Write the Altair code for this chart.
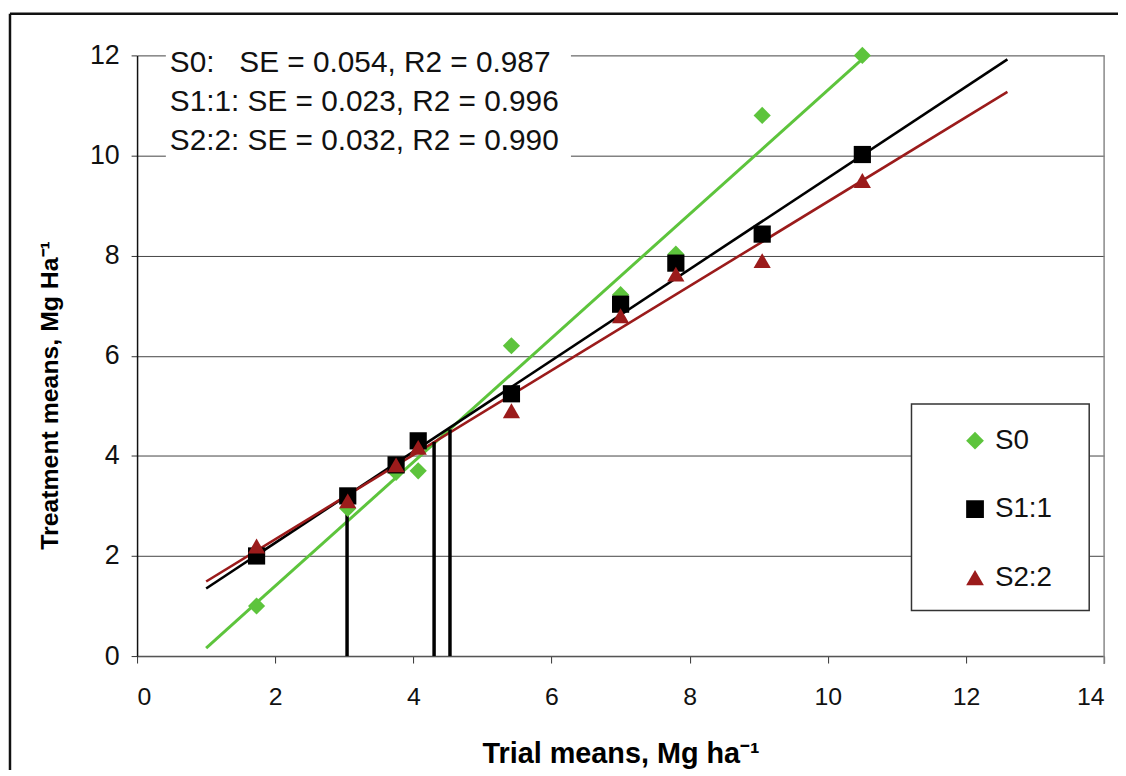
import altair as alt
import pandas as pd

# ---- data ----
series_names = ["S0", "S1:1", "S2:2"]
trial_means = [1.73, 3.05, 3.75, 4.07, 5.42, 7.0, 7.8, 9.05, 10.5]
s0_means = [1.0, 2.95, 3.67, 3.7, 6.2, 7.22, 8.03, 10.8, 12.0]
s11_means = [2.0, 3.2, 3.82, 4.3, 5.24, 7.03, 7.85, 8.43, 10.02]
s22_means = [2.2, 3.1, 3.82, 4.17, 4.9, 6.8, 7.63, 7.9, 9.5]

# regression line end points (x start, x end, y start, y end) per series
fit_x_start = [1.0, 1.0, 1.0]
fit_x_end = [10.56, 12.6, 12.6]
fit_y_start = [0.16, 1.35, 1.49]
fit_y_end = [12.0, 11.92, 11.27]

# vertical drop lines at the crossing points
drop_x = [3.04, 4.30, 4.53]
drop_y = [3.2, 4.28, 4.53]

NB = "\u00a0"
stats_lines = [
    "S0:" + NB * 3 + "SE = 0.054, R2 = 0.987",
    "S1:1: SE = 0.023, R2 = 0.996",
    "S2:2: SE = 0.032, R2 = 0.990",
]

x_title = "Trial means, Mg ha\u207b\u00b9"
y_title = "Treatment means, Mg Ha\u207b\u00b9"

colors = ["#5DC43C", "#000000", "#9B1B1B"]
shapes = ["diamond", "square", "triangle-up"]

# ---- tables ----
rows = []
for name, vals in zip(series_names, [s0_means, s11_means, s22_means]):
    for x, y in zip(trial_means, vals):
        rows.append({"series": name, "x": x, "y": y})
pts = pd.DataFrame(rows)

drops = pd.DataFrame({"x": drop_x, "y0": [0] * len(drop_x), "y": drop_y})

W, H = 974, 605
FONT = "Liberation Sans, Arial, sans-serif"

xscale = alt.Scale(domain=[0, 14], nice=False, zero=False)
yscale = alt.Scale(domain=[0, 12], nice=False, zero=False)
cscale = alt.Scale(domain=series_names, range=colors)
sscale = alt.Scale(domain=series_names, range=shapes)

xaxis = alt.Axis(values=list(range(0, 15, 2)), format="d", title=x_title, grid=False,
                 labelFontSize=25, labelPadding=22, labelColor="#111",
                 titleFontSize=29, titleFontWeight="bold",
                 titleX=487, titleY=98, titleAlign="center", titleBaseline="middle",
                 tickSize=7, tickColor="#333", domainColor="#555", domainWidth=1.5)
yaxis = alt.Axis(values=list(range(0, 13, 2)), format="d", title=y_title, grid=True,
                 gridColor="#444", gridWidth=1,
                 labelFontSize=27, labelPadding=12, labelColor="#111",
                 titleFontSize=25, titleFontWeight="bold",
                 titleX=-88, titleY=342, titleAlign="center", titleBaseline="middle",
                 titleAngle=270,
                 tickSize=6, tickColor="#333", domainColor="#111", domainWidth=1.5)

one = alt.Data(values=[{}])

# outer frame (top and left edges visible in the reference)
frame_top = alt.Chart(one).mark_rule(color="#111", strokeWidth=2.5).encode(
    x=alt.value(-128), x2=alt.value(1000), y=alt.value(-42))
frame_left = alt.Chart(one).mark_rule(color="#111", strokeWidth=2.5).encode(
    x=alt.value(-128), y=alt.value(-42), y2=alt.value(730))

# right border of the plot area
right_border = alt.Chart(one).mark_rule(color="#888", strokeWidth=1.5).encode(
    x=alt.datum(14, scale=xscale), y=alt.value(0), y2=alt.value(H + 8))

fit_layers = []
for i, name in enumerate(series_names):
    fdf = pd.DataFrame({"x": [fit_x_start[i], fit_x_end[i]],
                        "y": [fit_y_start[i], fit_y_end[i]]})
    fit_layers.append(
        alt.Chart(fdf).mark_line(strokeWidth=3 if i == 0 else 2.6, color=colors[i]).encode(
            x=alt.X("x:Q", scale=xscale, axis=xaxis),
            y=alt.Y("y:Q", scale=yscale, axis=yaxis))
    )

drop_rules = alt.Chart(drops).mark_rule(color="#000", strokeWidth=3.5).encode(
    x=alt.X("x:Q", scale=xscale), y=alt.Y("y0:Q", scale=yscale), y2="y:Q")

points = alt.Chart(pts).mark_point(filled=True, opacity=1, size=300).encode(
    x=alt.X("x:Q", scale=xscale),
    y=alt.Y("y:Q", scale=yscale),
    color=alt.Color("series:N", scale=cscale, title=None),
    shape=alt.Shape("series:N", scale=sscale, title=None))

stats_bg = alt.Chart(one).mark_rect(fill="white").encode(
    x=alt.value(29), x2=alt.value(437), y=alt.value(-8), y2=alt.value(107))
stats_text = alt.Chart(one).mark_text(
    text=stats_lines, align="left", baseline="alphabetic", fontSize=30,
    lineHeight=39, font=FONT, color="#111").encode(
    x=alt.value(33), y=alt.value(17))

legend_box = alt.Chart(one).mark_rect(fill="white", stroke="#333", strokeWidth=1.5).encode(
    x=alt.value(780), x2=alt.value(959), y=alt.value(351), y2=alt.value(559))

chart = alt.layer(
    frame_top, frame_left, right_border, *fit_layers, drop_rules, stats_bg, stats_text,
    legend_box, points
).properties(
    width=W, height=H,
    padding={"left": 130, "top": 45, "right": 14, "bottom": 112},
    autosize=alt.AutoSizeParams(type="none"),
).configure_view(stroke=None).configure_axis(
    labelFont=FONT, titleFont=FONT
).configure_legend(
    orient="none", legendX=830, legendY=374, padding=0,
    labelFontSize=28, labelFont=FONT, labelColor="#111",
    symbolSize=320, rowPadding=41, labelOffset=6, symbolStrokeWidth=0
)

chart.save("out.html", embed_options={"renderer": "svg", "actions": False})
